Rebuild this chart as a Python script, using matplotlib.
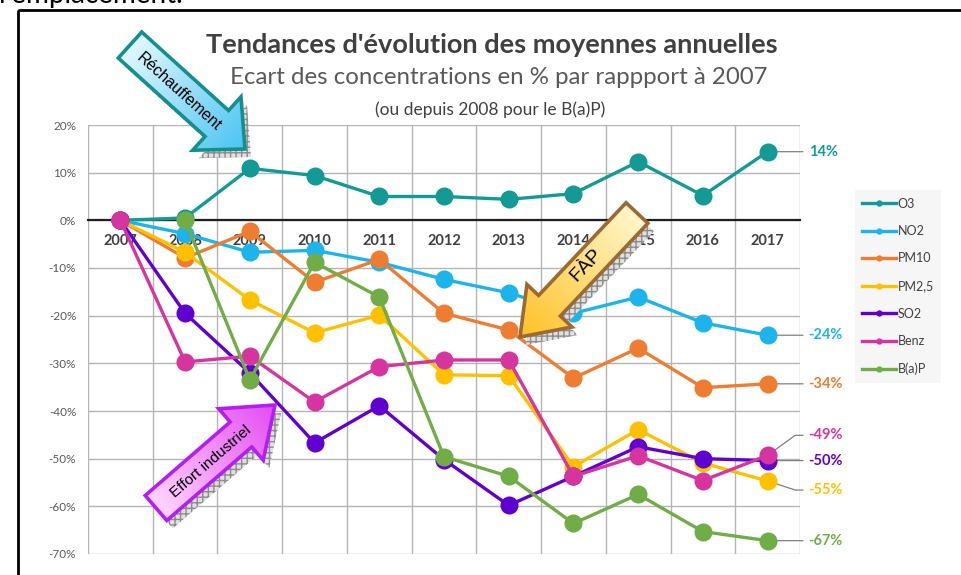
import numpy as np
import matplotlib
matplotlib.use("Agg")
from matplotlib import pyplot as plt
from matplotlib.patches import Polygon, Rectangle
from matplotlib.colors import to_rgb

plt.rcParams['font.family'] = ['Lato', 'DejaVu Sans']

years = [2007, 2008, 2009, 2010, 2011, 2012, 2013, 2014, 2015, 2016, 2017]
o3 = [0, 0.5, 10.9, 9.4, 5.0, 5.0, 4.4, 5.6, 12.3, 5.2, 14.4]
no2 = [0, -2.8, -6.7, -6.3, -8.8, -12.4, -15.2, -19.5, -16.1, -21.5, -24.1]
pm10 = [0, -7.9, -2.3, -13.0, -8.2, -19.5, -23.0, -33.1, -26.8, -35.1, -34.3]
pm25 = [0, -6.7, -16.7, -23.6, -19.9, -32.4, -32.6, -51.7, -43.9, -50.9, -54.7]
so2 = [0, -19.5, -32.0, -46.7, -38.9, -50.2, -59.8, -53.7, -47.5, -50.0, -50.4]
benz = [0, -29.7, -28.5, -38.1, -30.7, -29.3, -29.3, -53.7, -49.4, -54.6, -49.3]
bap = [np.nan, 0.0, -33.5, -8.8, -16.1, -49.6, -53.7, -63.6, -57.5, -65.3, -67.2]

names = ["O3", "NO2", "PM10", "PM2,5", "SO2", "Benz", "B(a)P"]
series = [o3, no2, pm10, pm25, so2, benz, bap]
colors = ["#139a94", "#1db4ec", "#ee7d31", "#ffc000", "#6000d0", "#d6359f", "#70ad47"]

fig = plt.figure(figsize=(9.62, 5.75), dpi=100)
ax = fig.add_axes([88/962, 1-554/575, 712/962, 429/575])

for vals, col, nm in zip(series, colors, names):
    ax.plot(years, vals, color=col, lw=2.4, marker='o', markersize=13,
            markeredgewidth=0, label=nm, zorder=3)

ax.set_xlim(2006.5, 2017.5)
ax.set_ylim(-70, 20)
ax.set_yticks(range(-70, 21, 10))
ax.set_yticklabels([f"{v}%" for v in range(-70, 21, 10)])
ax.set_xticks(years)
ax.set_xticks(np.arange(2006.5, 2018, 1), minor=True)
ax.tick_params(axis='y', length=0, pad=8.5, labelsize=8.5, labelcolor='#595959')
ax.tick_params(axis='x', which='both', length=0, labelbottom=False)
ax.set_axisbelow(True)
ax.grid(axis='y', color='#b5b5b5', lw=1)
ax.grid(axis='x', which='minor', color='#b5b5b5', lw=1)
for s in ['left', 'right', 'top']:
    ax.spines[s].set_visible(False)
ax.spines['bottom'].set_position(('data', 0))
ax.spines['bottom'].set_color('#202020')
ax.spines['bottom'].set_linewidth(1.6)
ax.spines['bottom'].set_zorder(2)

# category labels sit just under the zero line
for y in years:
    ax.annotate(str(y), xy=(y, 0), xytext=(0, -15), textcoords='offset points',
                ha='center', va='center', fontsize=10.5, fontweight='bold',
                color='#404040', zorder=2.5)

# end-of-line labels
label_dy = {"O3": 0, "NO2": 0, "PM10": 0, "PM2,5": 9, "SO2": 0, "Benz": -20, "B(a)P": 0}
for vals, col, nm in zip(series, colors, names):
    v = vals[-1]
    dy = label_dy[nm]
    if dy == 0:
        cs = "arc3"
    else:
        cs = "angle,angleA=0,angleB=%d,rad=0" % (36 if dy < 0 else -18)
    ax.annotate(f"{round(v)}%", xy=(years[-1], v), xytext=(29.5, -dy*0.72),
                textcoords='offset points', ha='left', va='center',
                color=col, fontsize=10.5, fontweight='bold', zorder=1,
                arrowprops=dict(arrowstyle='-', color='#808080', lw=0.9,
                                shrinkA=2, shrinkB=0, connectionstyle=cs))

leg = ax.legend(loc='upper left', bbox_to_anchor=(855/962, 1-190/575),
                bbox_transform=fig.transFigure, borderaxespad=0, frameon=True,
                facecolor='#f4f4f4', edgecolor='none', fancybox=False,
                markerscale=0.35, handlelength=2.7, handletextpad=0.1,
                labelspacing=1.24, fontsize=9, borderpad=0.6)
for t in leg.get_texts():
    t.set_color('#404040')

# overlay in pixel coordinates for titles, frame and block arrows
ov = fig.add_axes([0, 0, 1, 1], zorder=10)
ov.set_xlim(0, 962)
ov.set_ylim(575, 0)
ov.axis('off')

ov.add_patch(Rectangle((18, 10), 980, 600, fill=False, edgecolor='black', lw=2))
ov.text(-1, 3, "l'emplacement.", fontsize=20, color='black', va='baseline', ha='left')

ov.text(492, 45, "Tendances d'évolution des moyennes annuelles", ha='center', va='center',
        fontsize=19.5, fontweight='bold', color='#404040')
ov.text(499, 78, "Ecart des concentrations en % par rappport à 2007", ha='center', va='center',
        fontsize=17.3, color='#595959')
ov.text(490, 110, "(ou depuis 2008 pour le B(a)P)", ha='center', va='center',
        fontsize=12.5, color='#404040')


def block_arrow(tail, tip, w, hw, hl, c_tail, c_tip, edge, label, fs, tpos):
    tail = np.array(tail, float)
    tip = np.array(tip, float)
    d = tip - tail
    L = np.hypot(*d)
    u = d / L
    n = np.array([-u[1], u[0]])
    b = tip - u * hl
    verts = np.array([tail + n*w/2, b + n*w/2, b + n*hw/2, tip,
                      b - n*hw/2, b - n*w/2, tail - n*w/2])
    ov.add_patch(Polygon(verts + [6, 8], closed=True, facecolor='#e0e0e0',
                         edgecolor='#8c8c8c', hatch='+++', lw=0, zorder=1))
    body = Polygon(verts, closed=True, facecolor='none', edgecolor='none')
    ov.add_patch(body)
    x0, y0 = verts.min(0)
    x1, y1 = verts.max(0)
    X, Y = np.meshgrid(np.linspace(x0, x1, 150), np.linspace(y0, y1, 150))
    t = ((X - tail[0]) * u[0] + (Y - tail[1]) * u[1]) / L
    t = np.clip(t, 0, 1)[..., None]
    img = (1 - t) * np.array(to_rgb(c_tail)) + t * np.array(to_rgb(c_tip))
    im = ov.imshow(img, extent=(x0, x1, y1, y0), origin='upper', aspect='auto',
                   interpolation='bilinear', zorder=2)
    im.set_clip_path(body)
    ov.add_patch(Polygon(verts, closed=True, facecolor='none', edgecolor=edge,
                         lw=2.6, joinstyle='miter', zorder=3))
    ang = np.degrees(np.arctan2(-u[1], u[0]))
    if ang < -90:
        ang += 180
    if ang > 90:
        ang -= 180
    ov.text(tpos[0], tpos[1], label, rotation=ang, rotation_mode='anchor',
            ha='center', va='center', fontsize=fs, color='black',
            family='Liberation Sans', zorder=4)


block_arrow((130, 45), (245, 149), 35, 72, 38, '#e2f8ff', '#4cc4f2', '#14908c',
            "Réchauffement", 11.5, (179, 92))
block_arrow((637, 213), (520, 337), 30, 62, 43, '#fff7cc', '#ffc125', '#9b6a32',
            "FÀP", 14, (586, 265))
block_arrow((156, 508), (275, 405), 33, 68, 45, '#ffd6ff', '#e44cf2', '#b41ef5',
            "Effort industriel", 11, (211, 462))

ov.set_xlim(0, 962)
ov.set_ylim(575, 0)

plt.savefig("out.png", dpi=100)
